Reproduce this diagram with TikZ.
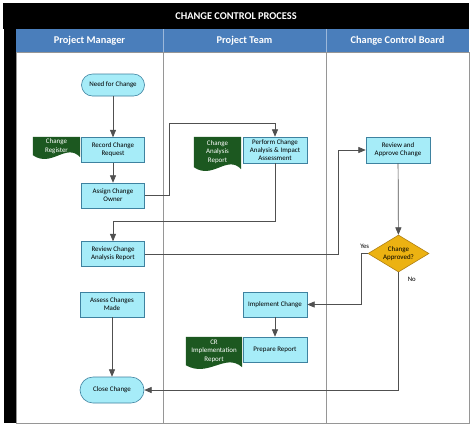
\documentclass[tikz,border=0pt]{standalone}
\usepackage{fontspec}
\setmainfont{Carlito}
\usetikzlibrary{arrows,shapes.geometric,calc,backgrounds}

\definecolor{boxfill}{RGB}{166,236,248}
\definecolor{boxline}{RGB}{62,130,160}
\definecolor{docgreen}{RGB}{28,88,32}
\definecolor{lanehead}{RGB}{74,126,187}
\definecolor{decfill}{RGB}{236,178,18}
\definecolor{decline}{RGB}{176,128,20}
\definecolor{flowgray}{RGB}{80,80,80}
\definecolor{lanegray}{RGB}{150,150,150}

\begin{document}
\begin{tikzpicture}[x=1bp,y=-1bp]
\def\laneone{163}
\def\lanetwo{326}

\tikzstyle box=[draw=boxline, fill=boxfill, line width=0.6pt, minimum width=63bp, minimum height=25bp, inner sep=0.5bp, align=center, font=\fontsize{7}{8.2}\selectfont]
\tikzstyle term=[box, rounded corners=11bp, minimum height=22bp]
\tikzstyle doc=[text=white, minimum width=47bp, inner sep=0bp, align=center, font=\fontsize{7}{8.5}\selectfont]
\tikzstyle decision=[diamond, draw=decline, fill=decfill, line width=0.6pt, aspect=1.65, minimum width=61bp, minimum height=37bp, inner sep=0pt, align=center, font=\fontsize{7}{8.3}\selectfont]
\tikzstyle flow=[draw=flowgray, line width=0.7pt, ->, >=triangle 45]
\tikzstyle lane=[draw=lanegray, line width=0.7pt]
\tikzstyle header=[text=white, font=\bfseries\fontsize{10.4}{12}\selectfont]
\tikzstyle answer=[font=\fontsize{6.8}{8}\selectfont, inner sep=0pt]

\useasboundingbox (0,0) rectangle (474,428);
\begin{pgfonlayer}{background}
\fill[white] (0,0) rectangle (474,428);
\end{pgfonlayer}

% frame and lanes
\fill[black] (3,3) rectangle (469,29);
\fill[black] (4,29) rectangle (16,423);
\fill[lanehead] (16,29) rectangle (469,52);
\foreach \x in {\laneone,\lanetwo} {
  \draw[lanehead!55!white, line width=0.8pt] (\x,29) -- (\x,52);
  \draw[lane] (\x,52) -- (\x,423);
}
\draw[lane] (16,52) rectangle (469,423);

\node[header] (title) at (236,16) {CHANGE CONTROL PROCESS};
\node[header] (pm) at (89.5,40.5) {Project Manager};
\node[header] (pt) at (244.5,40.5) {Project Team};
\node[header] (ccb) at (397.5,40.5) {Change Control Board};

% project manager
\node[term] (need) at (113,85) {Need for Change};
\node[box] (rec) at (113,150) {Record Change\\Request};
\node[box] (asg) at (113,195.5) {Assign Change\\Owner};
\node[box] (rev) at (113,254) {Review Change\\Analysis Report};
\node[box, minimum width=64bp] (ass) at (112,304.5) {Assess Changes\\Made};
\node[term, minimum width=64bp, minimum height=26bp, rounded corners=13bp] (cls) at (112,390) {Close Change};
\node[doc, minimum height=18bp] (reg) at (56.5,146) {Change\\Register};

% project team
\node[box, minimum width=64bp, minimum height=26bp] (per) at (275,150) {Perform Change\\Analysis \& Impact\\Assessment};
\node[doc, minimum height=30bp] (car) at (217.5,152) {Change\\Analysis\\Report};
\node[box, minimum width=64bp] (imp) at (275,304.5) {Implement Change};
\node[box, minimum width=64bp] (pre) at (275,349.5) {Prepare Report};
\node[doc, minimum width=56bp, minimum height=28bp] (cir) at (214,351) {CR\\Implementation\\Report};

% change control board
\node[box, minimum width=64bp, minimum height=26bp] (rac) at (398,150) {Review and\\Approve Change};
\node[decision] (dec) at (398.5,253.5) {Change\\Approved?};

\begin{pgfonlayer}{background}
\foreach \d in {reg,car,cir}
  \fill[docgreen] (\d.south east) -- (\d.north east) -- (\d.north west) -- (\d.south west)
    .. controls ($(\d.south west)!0.4!(\d.south east)+(0,13)$) and ($(\d.south west)!0.7!(\d.south east)+(0,-13)$) .. ([yshift=-2bp]\d.south east) -- cycle;
\end{pgfonlayer}

\draw[flow] (need) -- (rec);
\draw[flow] (rec) -- (asg);
\draw[flow] (asg.east) -- ++(25,0) |- ([yshift=13bp]per.north) -- (per.north);
\draw[flow] (per.south) -- ++(0,58) -| (rev.north);
\draw[flow] (rev.east) -- ++(193.5,0) |- (rac.west);
\draw[flow] (rac) -- (dec);
\draw[flow] (dec.west) -- node[answer, above=5bp] {Yes} ++(-6,0) |- (imp.east);
\draw[flow] (dec.south) |- node[answer, pos=0.03, right=9bp] {No} (cls.east);
\draw[flow] (ass) -- (cls);
\draw[flow] (imp) -- (pre);
\end{tikzpicture}
\end{document}
